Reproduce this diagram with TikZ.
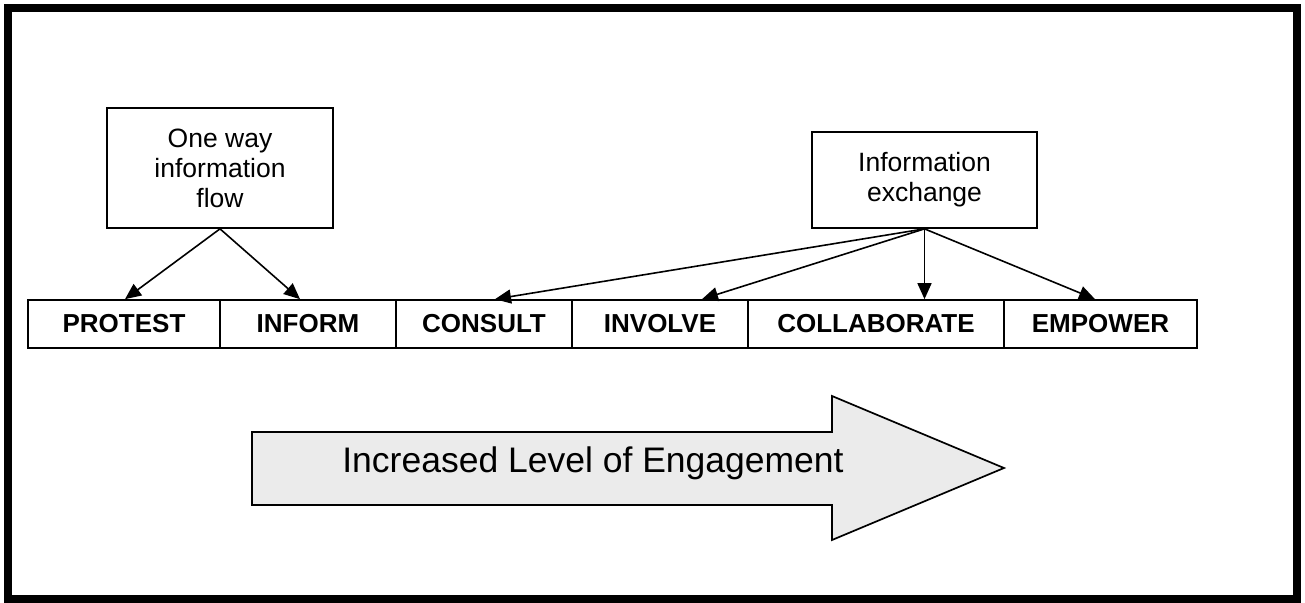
\documentclass[tikz,border=0pt]{standalone}
\usepackage{fontspec}
\setmainfont{Liberation Sans}
\usetikzlibrary{arrows.meta}
\begin{document}
\begin{tikzpicture}[x=1pt,y=-1pt,
  infobox/.style={draw, line width=1.7pt, align=center, inner sep=0pt,
    font=\fontsize{26.5}{30}\selectfont},
  stage/.style={draw, line width=1.7pt, inner sep=0pt, minimum height=48pt,
    font=\bfseries\fontsize{26}{30}\selectfont},
  link/.style={line width=1.6pt, -{Triangle[length=16pt,width=14pt]}},
  bigarrow/.style={draw, line width=1.7pt, fill=black!8},
]
\useasboundingbox (0,0) rectangle (1305,602);
% outer frame
\draw[line width=8pt] (8,8) rectangle (1296.5,598.5);

% source boxes
\node[infobox, minimum width=226pt, minimum height=120pt] (oneway) at (220,168) {One way\\information\\flow};
\node[infobox, minimum width=225pt, minimum height=96pt] (exch) at (924.5,180) {Information\\exchange};

% engagement stages
\node[stage, minimum width=192pt] (protest) at (124,324) {PROTEST};
\node[stage, minimum width=176pt] (inform) at (308,324) {INFORM};
\node[stage, minimum width=176pt] (consult) at (484,324) {CONSULT};
\node[stage, minimum width=176pt] (involve) at (660,324) {INVOLVE};
\node[stage, minimum width=256pt] (collab) at (876,324) {COLLABORATE};
\node[stage, minimum width=193pt] (empower) at (1100.5,324) {EMPOWER};

% connectors
\draw[link] (oneway.south) -- ([xshift=1pt]protest.north);
\draw[link] (oneway.south) -- ([xshift=-8pt]inform.north);
\draw[link] (exch.south) -- ([xshift=11pt]consult.north);
\draw[link] (exch.south) -- ([xshift=42pt]involve.north);
\draw[link] (exch.south) -- ([xshift=48.5pt]collab.north);
\draw[link] (exch.south) -- ([xshift=-5.5pt]empower.north);

% progression arrow
\draw[bigarrow] (252,432) -- (832,432) -- (832,396) -- (1004,468) -- (832,540) -- (832,505) -- (252,505) -- cycle;
\node[font=\fontsize{35.5}{40}\selectfont, inner sep=0pt, anchor=base] (engage) at (593,472) {Increased Level of Engagement};
\end{tikzpicture}
\end{document}
